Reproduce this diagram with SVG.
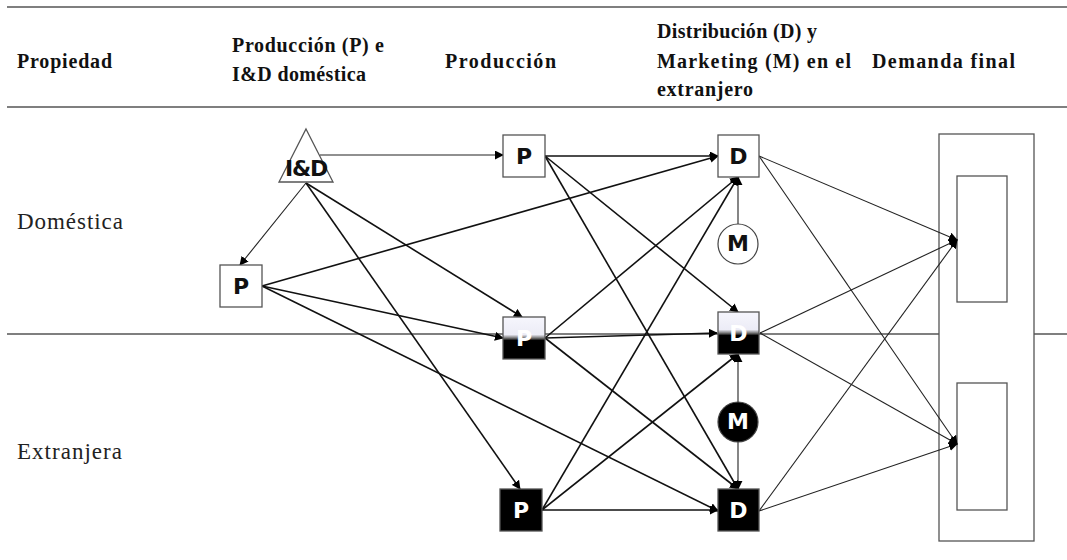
<svg xmlns="http://www.w3.org/2000/svg" width="1067" height="560" viewBox="0 0 1067 560">
<style>
.hdr{font-family:"Liberation Serif","Times New Roman",serif;font-weight:bold;font-size:20px;fill:#111}
.side{font-family:"Liberation Serif","Times New Roman",serif;font-size:23px;fill:#222}
.rule{stroke:#555;stroke-width:1.5;fill:none}
.box{stroke:#555;stroke-width:1.3;fill:#fff}
.lbl{font-family:"DejaVu Sans",sans-serif;font-weight:bold;font-size:22px;text-anchor:middle}
.k{fill:#111}
.w{fill:#fff}
.c{stroke:#111;stroke-width:1.6;fill:none;marker-end:url(#ah)}
.t{stroke:#222;stroke-width:1.1;fill:none;marker-end:url(#ah)}
</style>
<defs>
<marker id="ah" viewBox="0 0 10 10" refX="9" refY="5" markerWidth="9" markerHeight="9" markerUnits="userSpaceOnUse" orient="auto">
<path d="M0,0 L10,5 L0,10 z" fill="#000"/>
</marker>
<linearGradient id="half" x1="0" y1="0" x2="0" y2="1">
<stop offset="0" stop-color="#f6f6fd"/>
<stop offset="0.42" stop-color="#ececf6"/>
<stop offset="0.5" stop-color="#777"/>
<stop offset="0.56" stop-color="#000"/>
<stop offset="1" stop-color="#000"/>
</linearGradient>
</defs>
<rect width="1067" height="560" fill="#fff"/>
<g id="rules">
<line class="rule" x1="7" y1="7" x2="1067" y2="7"/>
<line class="rule" x1="7" y1="107" x2="1067" y2="107"/>
<line class="rule" x1="7" y1="334" x2="1067" y2="334"/>
</g>
<g id="headers">
<text class="hdr" x="17" y="68" textLength="95" lengthAdjust="spacing">Propiedad</text>
<text class="hdr" x="232" y="52" textLength="152" lengthAdjust="spacing">Producción (P) e</text>
<text class="hdr" x="232" y="81" textLength="134" lengthAdjust="spacing">I&amp;D doméstica</text>
<text class="hdr" x="445" y="68" textLength="111" lengthAdjust="spacing">Producción</text>
<text class="hdr" x="657" y="38" textLength="160" lengthAdjust="spacing">Distribución (D) y</text>
<text class="hdr" x="657" y="68" textLength="194" lengthAdjust="spacing">Marketing (M) en el</text>
<text class="hdr" x="657" y="96" textLength="96" lengthAdjust="spacing">extranjero</text>
<text class="hdr" x="872" y="68" textLength="143" lengthAdjust="spacing">Demanda final</text>
</g>
<g id="side-labels">
<text class="side" x="17" y="229" textLength="106" lengthAdjust="spacing">Doméstica</text>
<text class="side" x="17" y="459" textLength="105" lengthAdjust="spacing">Extranjera</text>
</g>
<g id="connectors">
<line class="t" x1="320" y1="155" x2="503" y2="155"/>
<line class="t" x1="306" y1="183" x2="240" y2="265"/>
<line class="c" x1="306" y1="183" x2="522" y2="317"/>
<line class="c" x1="306" y1="183" x2="520" y2="489"/>
<line class="c" x1="262" y1="286" x2="718" y2="156"/>
<line class="c" x1="262" y1="286" x2="503" y2="338"/>
<line class="c" x1="262" y1="286" x2="718" y2="511"/>
<line class="c" x1="545" y1="156" x2="718" y2="156"/>
<line class="c" x1="545" y1="156" x2="738" y2="312"/>
<line class="c" x1="545" y1="156" x2="738" y2="489"/>
<line class="c" x1="545" y1="338" x2="738" y2="177"/>
<line class="c" x1="545" y1="338" x2="717" y2="333"/>
<line class="c" x1="545" y1="338" x2="738" y2="489"/>
<line class="c" x1="542" y1="510" x2="738" y2="177"/>
<line class="c" x1="542" y1="510" x2="738" y2="354"/>
<line class="c" x1="542" y1="510" x2="718" y2="510"/>
<line class="t" x1="738" y1="224" x2="738" y2="177"/>
<line class="t" x1="738" y1="402" x2="738" y2="354"/>
<line class="t" x1="738" y1="442" x2="738" y2="489"/>
</g>
<g id="demanda-final">
<rect class="box" x="939" y="134" width="95" height="407"/>
<rect class="box" x="957" y="176" width="50" height="126"/>
<rect class="box" x="957" y="383" width="50" height="127"/>
</g>
<g id="demand-connectors">
<line class="t" x1="759" y1="156" x2="957" y2="240"/>
<line class="t" x1="759" y1="156" x2="957" y2="444"/>
<line class="t" x1="760" y1="333" x2="957" y2="240"/>
<line class="t" x1="760" y1="333" x2="957" y2="444"/>
<line class="t" x1="759" y1="511" x2="957" y2="240"/>
<line class="t" x1="759" y1="511" x2="957" y2="444"/>
</g>
<g id="node-ID">
<polygon class="box" points="306,129 333,182 279,182"/>
<text class="lbl k" x="306" y="176" font-size="19" letter-spacing="-1.2">I&amp;D</text>
</g>
<g id="node-P-dom">
<rect class="box" x="220" y="265" width="42" height="42"/>
<text class="lbl k" x="241" y="294">P</text>
</g>
<g id="node-P-top">
<rect class="box" x="503" y="135" width="42" height="42"/>
<text class="lbl k" x="524" y="164">P</text>
</g>
<g id="node-P-mid">
<rect x="503" y="317" width="42" height="42" fill="url(#half)" stroke="#555" stroke-width="1.3"/>
<text class="lbl w" x="524" y="346">P</text>
</g>
<g id="node-P-bot">
<rect x="500" y="489" width="42" height="42" fill="#000" stroke="#555" stroke-width="1.3"/>
<text class="lbl w" x="521" y="518">P</text>
</g>
<g id="node-D-top">
<rect class="box" x="718" y="135" width="41" height="42"/>
<text class="lbl k" x="738.5" y="164">D</text>
</g>
<g id="node-D-mid">
<rect x="718" y="312" width="41" height="42" fill="url(#half)" stroke="#555" stroke-width="1.3"/>
<text class="lbl w" x="738.5" y="341">D</text>
</g>
<g id="node-D-bot">
<rect x="718" y="489" width="41" height="42" fill="#000" stroke="#555" stroke-width="1.3"/>
<text class="lbl w" x="738.5" y="518">D</text>
</g>
<g id="node-M-top">
<circle cx="738" cy="244" r="20" fill="#fff" stroke="#444" stroke-width="1.2"/>
<text class="lbl k" x="738" y="251" font-size="19">M</text>
</g>
<g id="node-M-bot">
<circle cx="738" cy="422" r="20" fill="#000" stroke="#444" stroke-width="1.2"/>
<text class="lbl w" x="738" y="429" font-size="19">M</text>
</g>
</svg>
